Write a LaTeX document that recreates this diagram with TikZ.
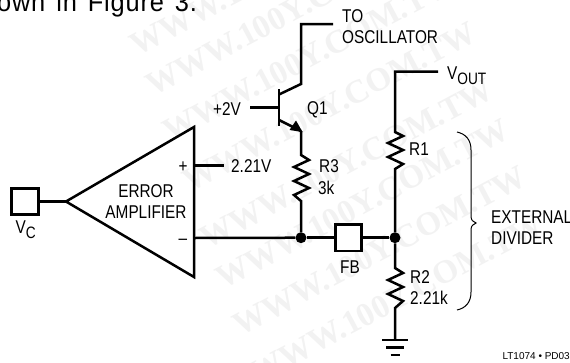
\documentclass[tikz,border=0pt]{standalone}
\usepackage{fontspec}
\setmainfont{Liberation Sans}
\newfontfamily\nrw[FakeStretch=0.83]{Liberation Sans}
\newfontfamily\hdf[FakeStretch=0.94,LetterSpace=3,WordSpace=1.4]{Liberation Sans}
\newfontfamily\wmf{Liberation Serif}[BoldFont={Liberation Serif Bold}]
\usetikzlibrary{arrows.meta}
\tikzset{
 wire/.style={line width=2.5pt,line join=miter,line cap=butt},
 box/.style={draw,line width=2.7pt,minimum width=26.5pt,minimum height=26.5pt,inner sep=0pt,fill=white},
 lbl/.style={inner sep=0pt,anchor=base west,font=\nrw\fontsize{18.5}{18.5}\selectfont},
 lblc/.style={inner sep=0pt,anchor=base,font=\nrw\fontsize{18.5}{18.5}\selectfont},
 jdot/.style={circle,fill=black,minimum size=11pt,inner sep=0pt},
 wm/.style={inner sep=0pt,anchor=base west,rotate=28,text=black!5,font=\wmf\bfseries\fontsize{33}{33}\selectfont},
}
\newcommand{\sbs}[1]{\raisebox{-5pt}{\fontsize{16.5}{16.5}\selectfont #1}}
\begin{document}
\begin{tikzpicture}[x=1pt,y=-1pt]
\useasboundingbox (0,0) rectangle (570,362);
\fill[white] (0,0) rectangle (570,362);
% watermark
\foreach \i/\xx/\yy in {a/137/57,b/153/97,c/170/143,d/190/193,e/207/250,f/223/290,g/240/337,h/257/385}{
  \node[wm] (wm\i) at (\xx,\yy) {WWW.100Y.COM.TW};
}
% running text
\node[inner sep=0pt,anchor=base west,font=\hdf\fontsize{27}{27}\selectfont] (head) at (-3,11) {own in Figure 3.};
% named points
\coordinate (apex) at (66,201.5);
\coordinate (ampT) at (194,127);
\coordinate (ampB) at (194,277);
\coordinate (plus) at (194,165.5);
\coordinate (ref) at (224,165.5);
\coordinate (minus) at (194,238);
\coordinate (bend) at (250,107.5);
\coordinate (base) at (279,107.5);
\coordinate (bT) at (279,89);
\coordinate (bB) at (279,126);
\coordinate (cIn) at (279,94.5);
\coordinate (cOut) at (301,84);
\coordinate (cTop) at (301,24);
\coordinate (osc) at (333,24);
\coordinate (eIn) at (279,120);
\coordinate (eOut) at (301,131);
\coordinate (r3a) at (301,155);
\coordinate (r3b) at (301,201);
\coordinate (vtop) at (438,71.5);
\coordinate (vcor) at (395,71.5);
\coordinate (r1a) at (395,132);
\coordinate (r1b) at (395,169);
\coordinate (r2a) at (395,268);
\coordinate (r2b) at (395,308);
\coordinate (gnd) at (395,340);
% nodes
\node[box] (vc) at (25,201.5) {};
\node[box] (fb) at (348.5,237.7) {};
\node[jdot] (j1) at (301,237.7) {};
\node[jdot] (j2) at (395,237.7) {};
% amplifier
\draw[wire,line join=miter] (apex) -- (ampT) -- (ampB) -- cycle;
\draw[wire] (vc.east) -- (apex);
\draw[wire] (plus) -- (ref);
\draw[wire] (minus) -- (j1);
\draw[wire] (j1) -- (fb.west);
\draw[wire] (fb.east) -- (j2);
% transistor
\draw[wire] (bend) -- (base);
\draw[wire] (bT) -- (bB);
\draw[wire] (cIn) -- (cOut) -- (cTop) -- (osc);
\draw[wire] (eIn) -- (eOut);
\fill (302.5,132) -- (289.5,130) -- (296,120.5) -- cycle;
% R3
\draw[wire] (eOut) -- (r3a) -- ++(8,5) -- ++(-15,7) -- ++(15,7) -- ++(-15,7) -- ++(15,7) -- ++(-15,7) -- (r3b) -- (j1);
% R1
\draw[wire] (vtop) -- (vcor) -- (r1a) -- ++(8,4) -- ++(-15,7) -- ++(15,7) -- ++(-15,7) -- ++(15,7) -- (r1b) -- (j2);
% R2
\draw[wire] (j2) -- (r2a) -- ++(8,5) -- ++(-15,7) -- ++(15,7) -- ++(-15,7) -- ++(15,7) -- (r2b) -- (gnd);
% ground
\coordinate (g2) at (395,347.5);
\coordinate (g3) at (395,355);
\draw[wire] ([xshift=-13pt]gnd) -- ([xshift=13pt]gnd);
\draw[wire] ([xshift=-9pt]g2) -- ([xshift=9pt]g2);
\draw[wire] ([xshift=-4.5pt]g3) -- ([xshift=4.5pt]g3);
% brace
\coordinate (brT) at (457,132);
\coordinate (brB) at (457,310);
\coordinate (brTip) at (476,223);
\draw[line width=1pt] (brT) .. controls (466,134) and (471,140) .. (471,150) -- (471,216) .. controls (471,220) and (473,222) .. (brTip) .. controls (473,224) and (471,226) .. (471,230) -- (471,292) .. controls (471,302) and (466,308) .. (brB);
% labels
\node[lbl] (t2v) at (213,115) {+2V};
\node[lbl] (tq) at (307,114) {Q1};
\node[lbl] (tplus) at (178.5,172) {+};
\node[lbl] (tmin) at (178.5,244) {–};
\node[lbl] (t221) at (231,172) {2.21V};
\node[lblc] (terr) at (146,197) {ERROR};
\node[lblc] (tamp) at (146,218) {AMPLIFIER};
\node[lbl] (tvc) at (15.5,233) {V\sbs{C}};
\node[lbl] (tto) at (342,22) {TO};
\node[lbl] (tosc) at (342,43) {OSCILLATOR};
\node[lbl] (tvo) at (447,79) {V\sbs{OUT}};
\node[lbl] (tr1) at (409,155) {R1};
\node[lbl] (tr3) at (319,172.5) {R3};
\node[lbl] (t3k) at (318,194) {3k};
\node[lblc] (tfb) at (350,273) {FB};
\node[lbl] (tr2) at (410,283) {R2};
\node[lbl] (t2k) at (410,304) {2.21k};
\node[lbl] (text) at (491,223) {EXTERNAL};
\node[lbl] (tdiv) at (491,244) {DIVIDER};
\node[inner sep=0pt,anchor=base east,font=\fontsize{10}{10}\selectfont] (tid) at (570,359) {LT1074 • PD03};
\end{tikzpicture}
\end{document}
